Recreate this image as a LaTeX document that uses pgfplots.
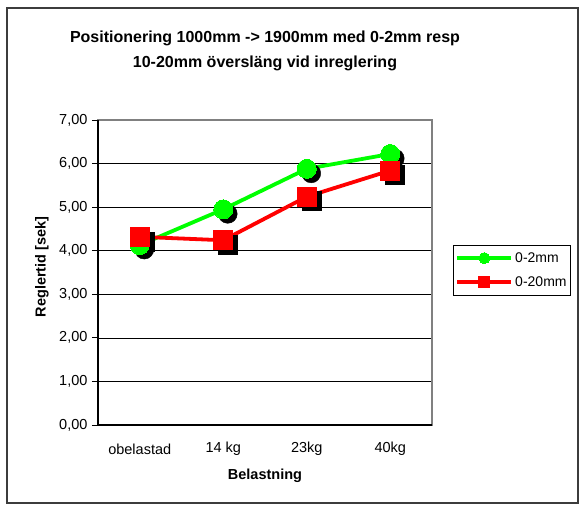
\documentclass[border=0pt]{standalone}
\usepackage{fontspec}
\setmainfont{Liberation Sans}
\usepackage{pgfplots}
\pgfplotsset{compat=1.18}
\definecolor{xlgreen}{RGB}{0,255,0}
\definecolor{xlred}{RGB}{255,0,0}
\definecolor{framegray}{RGB}{60,60,60}
\begin{document}
\begin{tikzpicture}
\useasboundingbox (-98pt,-79pt) rectangle (481pt,425pt);
\draw[framegray, line width=1.6pt] (-91pt,-78pt) rectangle (480pt,417pt);
\begin{axis}[
  scale only axis,
  width=334pt, height=305pt,
  at={(0pt,0pt)}, anchor=south west,
  xmin=-0.5, xmax=3.5,
  ymin=0, ymax=7,
  xtick={0,1,2,3},
  xticklabels={obelastad,14 kg,23kg,40kg},
  x tick style={draw=none},
  extra x ticks={-0.5,0.5,1.5,2.5,3.5},
  extra x tick labels={},
  extra x tick style={grid=none, tick style={draw=black, line width=0.8pt}, major tick length=5pt},
  ytick={0,1,...,7},
  ymajorgrids,
  grid style={black, line width=0.7pt},
  tick align=outside,
  major tick length=6pt,
  xtick pos=bottom, ytick pos=left,
  y tick style={black, line width=0.8pt},
  axis line style={draw=gray, line width=1.2pt},
  /pgf/number format/fixed,
  /pgf/number format/fixed zerofill,
  /pgf/number format/precision=2,
  /pgf/number format/use comma,
  /pgf/number format/assume math mode=true,
  yticklabel style={anchor=east, xshift=-1pt, font=\fontsize{14.5}{16}\selectfont},
  xticklabel style={anchor=center, yshift=-18pt, font=\fontsize{14.5}{16}\selectfont},
  title={Positionering 1000mm -> 1900mm med 0-2mm resp\\10-20mm översläng vid inreglering},
  title style={at={(0.5,1)}, anchor=center, yshift=63pt, align=center, font=\bfseries\fontsize{16}{25}\selectfont},
  xlabel={Belastning},
  xlabel style={at={(axis description cs:0.5,0)}, anchor=center, yshift=-51pt, font=\bfseries\fontsize{14.5}{16}\selectfont},
  ylabel={Reglertid [sek]},
  ylabel style={at={(axis description cs:-0.168,0.518)}, anchor=center, font=\bfseries\fontsize{14.5}{16}\selectfont},
  legend style={at={(1.063,0.590)}, anchor=north west, draw=black, line width=0.8pt, font=\fontsize{14}{16}\selectfont, row sep=9pt, inner xsep=2pt, inner ysep=5pt, cells={anchor=west}},
  legend image code/.code={\draw[mark repeat=2,mark phase=2,#1] plot coordinates {(0pt,0pt) (27pt,0pt) (54pt,0pt)};},
  legend image post style={mark size=5.5pt},
  after end axis/.code={\draw[black, line width=1.3pt] (rel axis cs:0,1) -- (rel axis cs:0,0) -- (rel axis cs:1,0);},
]
% shadows
\addplot[forget plot, only marks, mark=*, mark size=9.5pt, black, mark options={xshift=4.5pt, yshift=-4.5pt}] coordinates {(0,4.13) (1,4.95) (2,5.88) (3,6.22)};
\addplot[forget plot, only marks, mark=square*, mark size=9.5pt, black, mark options={xshift=4.5pt, yshift=-4.5pt}] coordinates {(0,4.32) (1,4.24) (2,5.24) (3,5.84)};
% series
\addplot[xlgreen, line width=3.8pt, mark=*, mark size=9.5pt, mark options={solid, line width=0pt, fill=xlgreen}] coordinates {(0,4.13) (1,4.95) (2,5.88) (3,6.22)};
\addlegendentry{0-2mm}
\addplot[xlred, line width=3.8pt, mark=square*, mark size=9.5pt, mark options={solid, line width=0pt, fill=xlred}] coordinates {(0,4.32) (1,4.24) (2,5.24) (3,5.84)};
\addlegendentry{0-20mm}
\end{axis}
\end{tikzpicture}
\end{document}
